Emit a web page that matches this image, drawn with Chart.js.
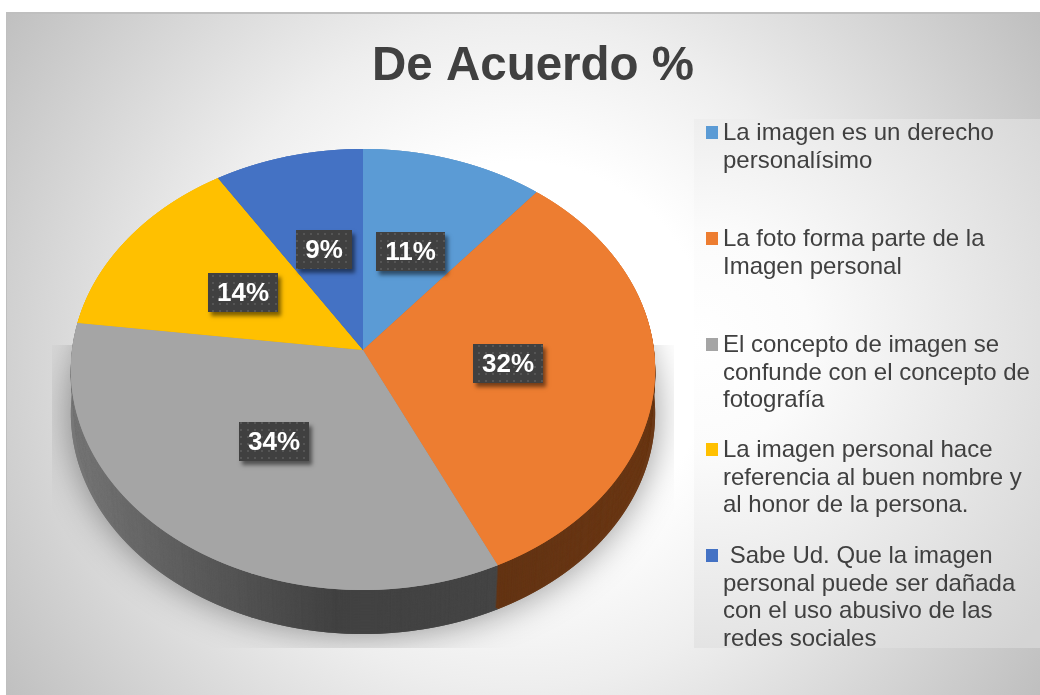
<!DOCTYPE html>
<html lang="es">
<head>
<meta charset="utf-8">
<title>De Acuerdo %</title>
<style>html,body{margin:0;padding:0;background:#fff}canvas{display:block}</style>
<script src="https://cdn.jsdelivr.net/npm/chart.js@4"></script>
</head>
<body>
<canvas id="c" width="1040" height="695"></canvas>
<script>
const titleText = 'De Acuerdo %';
const categories = [
  'La imagen es un derecho personalísimo',
  'La foto forma parte de la Imagen personal',
  'El concepto de imagen se confunde con el concepto de fotografía',
  'La imagen personal hace referencia al buen nombre y al honor de la persona.',
  ' Sabe Ud. Que la imagen personal puede ser dañada con el uso abusivo de las redes sociales'
];
const values = [11, 32, 34, 14, 9];
const colors = ['#5B9BD5', '#ED7D31', '#A5A5A5', '#FFC000', '#4472C4'];
const legendLines = [
  ['La imagen es un derecho', 'personalísimo'],
  ['La foto forma parte de la', 'Imagen personal'],
  ['El concepto de imagen se', 'confunde con el concepto de', 'fotografía'],
  ['La imagen personal hace', 'referencia al buen nombre y', 'al honor de la persona.'],
  [' Sabe Ud. Que la imagen', 'personal puede ser dañada', 'con el uso abusivo de las', 'redes sociales']
];

// Layout of the tilted pie (perspective projection of the library's circle)
const W = 1040, H = 695;
const APEX_X = 363, APEX_Y = 350, PROJ_A = 291, PROJ_B = 218.8, PERSP = 0.0884;
const FACE_CY = 369.5, WALL_DROP = 45.8, WALL_SHRINK = 0.015, WALL_STEPS = 70;
const LEGEND_Y = [139, 245, 351, 456, 562];
const LINE_H = 27.7;

function project(u, v) {
  const w = 1 - PERSP * v;
  return { x: APEX_X + PROJ_A * u / w, y: APEX_Y + PROJ_B * v / w };
}
function makeLayer() {
  const cv = document.createElement('canvas');
  cv.width = W; cv.height = H;
  return cv;
}
function paintProjected(ctx, arcs) {
  const first = arcs[0], R = first.outerRadius, ex = first.x, ey = first.y;
  for (let y = 140; y < 600; y++) {
    const dy = y + 0.5 - APEX_Y;
    const v = dy / (PROJ_B + PERSP * dy);
    const w = 1 - PERSP * v;
    const sx = PROJ_A / (w * R), sy = PROJ_B / (w * w * R);
    ctx.save();
    ctx.beginPath();
    ctx.rect(0, y, W, 1);
    ctx.clip();
    ctx.setTransform(sx, 0, 0, sy, APEX_X - sx * ex, y + 0.5 - sy * (ey + v * R));
    for (let pass = 0; pass < 2; pass++) arcs.forEach(a => a.draw(ctx));
    ctx.restore();
  }
}

const backdrop = {
  id: 'backdrop',
  beforeDraw(chart) {
    const ctx = chart.ctx;
    ctx.save();
    ctx.fillStyle = '#fff';
    ctx.fillRect(0, 0, W, H);
    const g = ctx.createRadialGradient(520, 354, 0, 520, 354, 640);
    g.addColorStop(0, '#ffffff');
    g.addColorStop(0.3, '#ffffff');
    g.addColorStop(0.52, '#eeeeee');
    g.addColorStop(1, '#bcbcbc');
    ctx.fillStyle = g;
    ctx.fillRect(6, 12, W - 6, H - 12);
    ctx.fillStyle = '#bfbfbf';
    ctx.fillRect(6, 12, W - 6, 2);
    ctx.fillRect(6, 12, 1, H - 12);
    const lg = ctx.createRadialGradient(700, 340, 0, 700, 340, 440);
    lg.addColorStop(0, '#ffffff');
    lg.addColorStop(0.25, '#fbfbfb');
    lg.addColorStop(1, '#d4d4d4');
    ctx.fillStyle = lg;
    ctx.fillRect(694, 119, W - 694, 529);
    ctx.restore();
  }
};

const pie3d = {
  id: 'pie3d',
  beforeDatasetsDraw(chart) {
    const ctx = chart.ctx;
    const arcs = chart.getDatasetMeta(0).data;
    const face = makeLayer();
    paintProjected(face.getContext('2d'), arcs);

    const wall = makeLayer();
    const wc = wall.getContext('2d');
    wc.drawImage(face, 0, 0);
    wc.globalCompositeOperation = 'source-atop';
    const g = wc.createLinearGradient(70, 0, 660, 0);
    g.addColorStop(0, 'rgba(0,0,0,0.28)');
    g.addColorStop(0.22, 'rgba(0,0,0,0.45)');
    g.addColorStop(0.45, 'rgba(0,0,0,0.6)');
    g.addColorStop(0.72, 'rgba(0,0,0,0.58)');
    g.addColorStop(1, 'rgba(0,0,0,0.55)');
    wc.fillStyle = g;
    wc.fillRect(0, 0, W, H);

    ctx.save();
    ctx.beginPath();
    ctx.rect(52, 345, 622, 303);
    ctx.clip();
    ctx.shadowColor = 'rgba(0,0,0,0.42)';
    ctx.shadowBlur = 36;
    ctx.drawImage(wall, 0, 44);
    ctx.restore();

    for (let i = WALL_STEPS; i >= 1; i--) {
      const t = i / WALL_STEPS, s = 1 - WALL_SHRINK * t;
      ctx.save();
      ctx.translate(APEX_X, FACE_CY + WALL_DROP * t);
      ctx.scale(s, s);
      ctx.translate(-APEX_X, -FACE_CY);
      ctx.drawImage(wall, 0, 0);
      ctx.restore();
    }
    ctx.drawImage(face, 0, 0);
    return false;
  },
  afterDraw(chart) {
    const ctx = chart.ctx;
    const arcs = chart.getDatasetMeta(0).data;

    // Data labels
    const dot = document.createElement('canvas');
    dot.width = dot.height = 7;
    const dc = dot.getContext('2d');
    dc.fillStyle = '#404040'; dc.fillRect(0, 0, 7, 7);
    dc.fillStyle = '#555555'; dc.fillRect(2, 2, 2, 2);
    const pat = ctx.createPattern(dot, 'repeat');
    ctx.save();
    ctx.font = 'bold 26px "Liberation Sans", Arial, sans-serif';
    ctx.textAlign = 'center';
    ctx.textBaseline = 'middle';
    arcs.forEach((a, i) => {
      const mid = (a.startAngle + a.endAngle) / 2;
      const p = project(Math.cos(mid) * 0.5, Math.sin(mid) * 0.5);
      const txt = values[i] + '%';
      const bw = Math.round(ctx.measureText(txt).width + 18), bh = 39;
      const bx = Math.round(p.x - bw / 2), by = Math.round(p.y - bh / 2);
      ctx.save();
      ctx.shadowColor = 'rgba(0,0,0,0.5)';
      ctx.shadowBlur = 4;
      ctx.shadowOffsetX = 3;
      ctx.shadowOffsetY = 4;
      ctx.fillStyle = '#404040';
      ctx.fillRect(bx, by, bw, bh);
      ctx.restore();
      ctx.fillStyle = pat;
      ctx.fillRect(bx, by, bw, bh);
      ctx.fillStyle = '#ffffff';
      ctx.fillText(txt, bx + bw / 2, by + bh / 2 + 1);
    });
    ctx.restore();

    // Legend
    ctx.save();
    ctx.font = '24px "Liberation Sans", Arial, sans-serif';
    ctx.textAlign = 'left';
    ctx.textBaseline = 'alphabetic';
    legendLines.forEach((lines, i) => {
      const base = LEGEND_Y[i];
      ctx.fillStyle = colors[i];
      ctx.fillRect(706, base - 13, 12, 13);
      ctx.fillStyle = '#404040';
      lines.forEach((t, j) => ctx.fillText(t, 723, base + 1 + j * LINE_H));
    });
    ctx.restore();
  }
};

new Chart(document.getElementById('c'), {
  type: 'pie',
  data: {
    labels: categories,
    datasets: [{ data: values, backgroundColor: colors, borderWidth: 0, hoverOffset: 0 }]
  },
  options: {
    responsive: false,
    devicePixelRatio: 1,
    animation: false,
    events: [],
    layout: { padding: { left: 26, right: 0, top: 0, bottom: 0 } },
    plugins: {
      legend: { display: false },
      tooltip: { enabled: false },
      title: {
        display: true,
        text: titleText,
        color: '#404040',
        font: { family: '"Liberation Sans", Arial, sans-serif', size: 47.5, weight: 'bold' },
        padding: { top: 38, bottom: 10 }
      }
    }
  },
  plugins: [backdrop, pie3d]
});
</script>
</body>
</html>
